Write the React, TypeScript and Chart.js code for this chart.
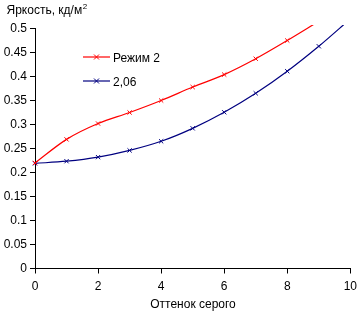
import React, { useEffect, useRef } from "react";
import { Chart, registerables } from "chart.js";
Chart.register(...registerables);

const grayLevels = [0, 1, 2, 3, 4, 5, 6, 7, 8, 9, 10];
const regime2 = [0.22, 0.269, 0.302, 0.325, 0.35, 0.378, 0.404, 0.437, 0.475, 0.515];
const gamma206 = [0.219, 0.2235, 0.232, 0.246, 0.265, 0.292, 0.3255, 0.365, 0.411, 0.463, 0.52];
const seriesNames = ["Режим 2", "2,06"];
const yAxisTitle = "Яркость, кд/м";
const yAxisTitleSup = "2";
const xAxisTitle = "Оттенок серого";
const X_MIN = 0, X_MAX = 10, X_STEP = 2;
const Y_MIN = 0, Y_MAX = 0.5, Y_STEP = 0.05;

const RED = "#ff0000";
const NAVY = "#000080";
const FONT = "'Liberation Sans', Arial, sans-serif";

const textPlugin = {
  id: "texts",
  afterDraw(chart: any) {
    const ctx = chart.ctx as CanvasRenderingContext2D;
    ctx.save();
    ctx.fillStyle = "#000";
    ctx.font = `12px ${FONT}`;
    ctx.textBaseline = "alphabetic";
    ctx.textAlign = "left";
    ctx.fillText(yAxisTitle, 6.5, 14);
    const w = ctx.measureText(yAxisTitle).width;
    ctx.font = `8px ${FONT}`;
    ctx.fillText(yAxisTitleSup, 6.5 + w + 0.5, 9);
    ctx.font = `12px ${FONT}`;
    ctx.textAlign = "center";
    ctx.fillText(xAxisTitle, 193, 308);

    // legend
    const colors = [RED, NAVY];
    const ys = [57, 81];
    ctx.textAlign = "left";
    for (let i = 0; i < 2; i++) {
      const y = ys[i];
      ctx.strokeStyle = colors[i];
      ctx.lineWidth = 1.2;
      ctx.beginPath();
      ctx.moveTo(83, y);
      ctx.lineTo(110, y);
      ctx.stroke();
      const cx = 96.5, r = 2.5;
      ctx.lineWidth = 1;
      ctx.beginPath();
      ctx.moveTo(cx - r, y - r);
      ctx.lineTo(cx + r, y + r);
      ctx.moveTo(cx - r, y + r);
      ctx.lineTo(cx + r, y - r);
      ctx.stroke();
      ctx.fillStyle = "#000";
      ctx.fillText(seriesNames[i], 113, y + 4.5);
    }
    ctx.restore();
  },
};

export default function App() {
  const ref = useRef<HTMLCanvasElement | null>(null);
  useEffect(() => {
    if (!ref.current) return;
    const mk = (vals: number[]) => vals.map((v, i) => ({ x: grayLevels[i], y: v }));
    const common = {
      borderWidth: 1.2,
      pointStyle: "crossRot",
      pointRadius: 3,
      pointBorderWidth: 1,
      cubicInterpolationMode: "monotone",
      clip: { left: 6, top: 3.5, right: 0, bottom: 6 },
    };
    const chart = new Chart(ref.current, {
      type: "line",
      data: {
        datasets: [
          {
            ...common,
            label: seriesNames[0],
            data: mk(regime2),
            borderColor: RED,
            backgroundColor: RED,
            pointBorderColor: RED,
          },
          {
            ...common,
            label: seriesNames[1],
            data: mk(gamma206),
            borderColor: NAVY,
            backgroundColor: NAVY,
            pointBorderColor: NAVY,
          },
        ],
      },
      options: {
        animation: false,
        responsive: false,
        events: [],
        layout: { padding: { top: 28.5, right: 6, left: 0, bottom: 0 } },
        plugins: { legend: { display: false }, tooltip: { enabled: false } },
        scales: {
          x: {
            type: "linear",
            min: X_MIN,
            max: X_MAX,
            afterFit: (s: any) => { s.height = 42.5; },
            ticks: { stepSize: X_STEP, color: "#000", font: { family: FONT, size: 12 }, padding: 6, maxRotation: 0 },
            grid: { drawOnChartArea: false, drawTicks: true, tickLength: 5, color: "#000" },
            border: { color: "#000", width: 1 },
          },
          y: {
            type: "linear",
            min: Y_MIN,
            max: Y_MAX,
            afterFit: (s: any) => { s.width = 35; },
            ticks: {
              stepSize: Y_STEP,
              color: "#000",
              font: { family: FONT, size: 12 },
              padding: 3,
              callback: (v: any) => String(Math.round(Number(v) * 100) / 100),
            },
            grid: { drawOnChartArea: false, drawTicks: true, tickLength: 5, color: "#000" },
            border: { color: "#000", width: 1 },
          },
        },
      },
      plugins: [textPlugin],
    } as any);
    return () => chart.destroy();
  }, []);
  return (
    <div style={{ position: "fixed", left: 0, top: 0, width: 363, height: 311, background: "#fff" }}>
      <canvas ref={ref} width={363} height={311} style={{ width: 363, height: 311 }} />
    </div>
  );
}
